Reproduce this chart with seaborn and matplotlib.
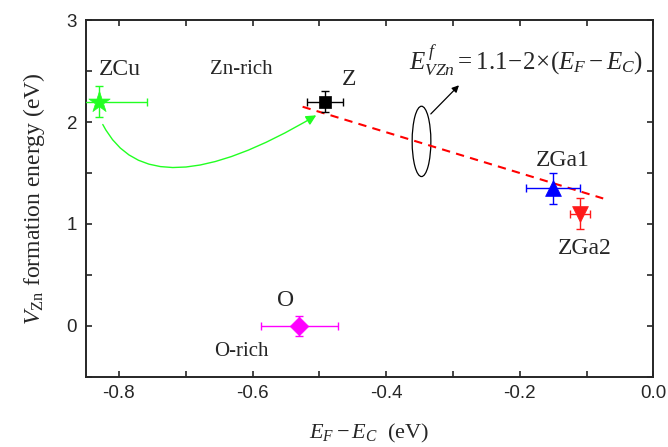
import matplotlib
matplotlib.use("Agg")
import matplotlib.pyplot as plt
from matplotlib.patches import Ellipse
from matplotlib.ticker import MultipleLocator
import seaborn as sns
import pandas as pd

# ---- data ----
names = ["ZCu", "Z", "ZGa1", "ZGa2", "O"]
x_vals = [-0.83, -0.492, -0.15, -0.11, -0.53]
y_vals = [2.2, 2.2, 1.35, 1.1, 0.0]
x_err = [0.072, 0.027, 0.041, 0.015, 0.058]
y_err = [0.15, 0.1, 0.15, 0.15, 0.1]
colors = ["#22ff22", "black", "#0000ff", "#ff1a1a", "#ff00ff"]
markers = ["*", "s", "^", "v", "D"]
msizes = [260, 80, 130, 130, 90]

line_x = [-0.525, -0.075]
line_y = [2.15, 1.25]

df = pd.DataFrame({"name": names, "x": x_vals, "y": y_vals})

sns.set_style("ticks")
plt.rcParams["font.family"] = ["Liberation Sans", "DejaVu Sans"]
plt.rcParams["mathtext.fontset"] = "custom"
plt.rcParams["mathtext.rm"] = "Liberation Serif"
plt.rcParams["mathtext.it"] = "Liberation Serif:italic"
plt.rcParams["mathtext.bf"] = "Liberation Serif:bold"

fig = plt.figure(figsize=(6.68, 4.47), dpi=100)
ax = fig.add_axes([0.128, 0.157, 0.85, 0.798])

# dashed fit line
sns.lineplot(x=line_x, y=line_y, ax=ax, color="red", linestyle=(0, (4, 3)), lw=1.5)

for i, n in enumerate(names):
    ax.errorbar(x_vals[i], y_vals[i], xerr=x_err[i], yerr=y_err[i], fmt="none",
                ecolor=colors[i], elinewidth=1, capsize=3, capthick=1, zorder=3)
    sns.scatterplot(data=df[df.name == n], x="x", y="y", marker=markers[i],
                    color=colors[i], s=msizes[i], edgecolor=colors[i], linewidth=0.5,
                    ax=ax, zorder=4, legend=False)

# curved green arrow
ax.annotate("", xy=(-0.501, 2.08), xytext=(-0.826, 2.0),
            arrowprops=dict(arrowstyle="-|>", color="#22ff22", lw=1,
                            mutation_scale=15,
                            connectionstyle="angle3,angleA=-64,angleB=31"))

# ellipse and black arrow
ax.add_patch(Ellipse((-0.347, 1.81), 0.028, 0.69, fill=False, ec="black", lw=0.9))
ax.annotate("", xy=(-0.288, 2.38), xytext=(-0.336, 2.06),
            arrowprops=dict(arrowstyle="-|>", color="black", lw=0.9, mutation_scale=10))

serif = ["Liberation Serif", "DejaVu Serif"]
ax.text(-0.83, 2.52, "ZCu", fontsize=17, family=serif, ha="left", va="center")
ax.text(-0.617, 2.52, "Zn-rich", fontsize=15, family=serif, ha="center", va="center")
ax.text(-0.455, 2.42, "Z", fontsize=17, family=serif, ha="center", va="center")
ax.text(-0.135, 1.62, "ZGa1", fontsize=17, family=serif, ha="center", va="center")
ax.text(-0.103, 0.76, "ZGa2", fontsize=17, family=serif, ha="center", va="center")
ax.text(-0.55, 0.25, "O", fontsize=17, family=serif, ha="center", va="center")
ax.text(-0.617, -0.25, "O-rich", fontsize=15, family=serif, ha="center", va="center")
ax.text(-0.19, 2.6, r"$E^{\,f}_{VZn} = 1.1\!-\!2\!\times\!(E_F - E_C)$",
        fontsize=18, ha="center", va="center")

ax.set_xlim(-0.85, 0.0)
ax.set_ylim(-0.5, 3.0)
ax.xaxis.set_major_locator(MultipleLocator(0.2))
ax.xaxis.set_minor_locator(MultipleLocator(0.1))
ax.yaxis.set_major_locator(MultipleLocator(1))
ax.yaxis.set_minor_locator(MultipleLocator(0.5))
ax.xaxis.set_major_formatter(matplotlib.ticker.FormatStrFormatter("%.1f"))
ax.tick_params(which="both", direction="in", top=True, right=True, labelsize=13.5,
               width=1.2, length=4, pad=6)
for s in ax.spines.values():
    s.set_linewidth(1.4)
    s.set_visible(True)

ax.set_xlabel(r"$E_F - E_C$  (eV)", fontsize=16, labelpad=14, family=serif)
ax.set_ylabel(r"$V_{\mathrm{Zn}}$ formation energy (eV)", fontsize=17, labelpad=14,
              family=serif)

fig.savefig("out.png", dpi=100)
